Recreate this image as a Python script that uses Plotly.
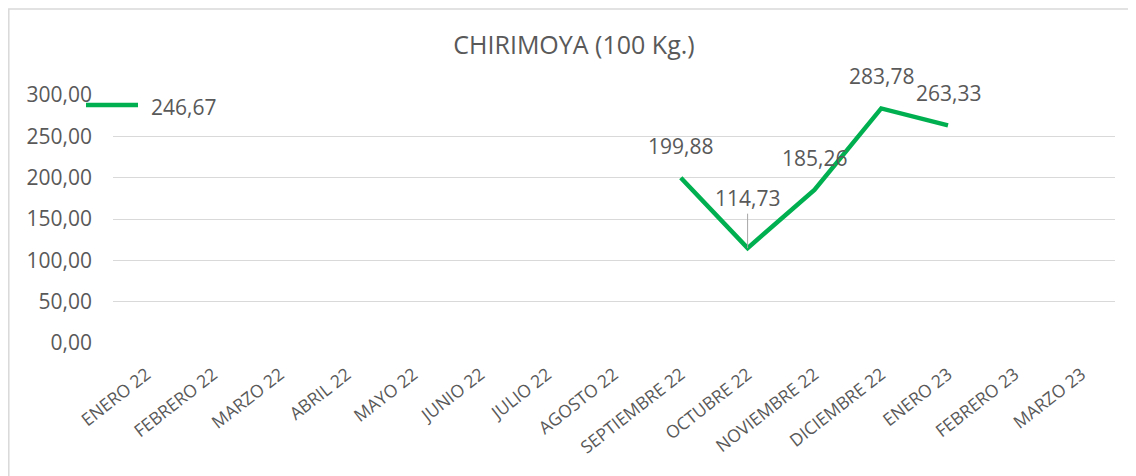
import plotly.graph_objects as go

categories = ["ENERO 22", "FEBRERO 22", "MARZO 22", "ABRIL 22", "MAYO 22", "JUNIO 22",
              "JULIO 22", "AGOSTO 22", "SEPTIEMBRE 22", "OCTUBRE 22", "NOVIEMBRE 22",
              "DICIEMBRE 22", "ENERO 23", "FEBRERO 23", "MARZO 23"]
values = [246.67, None, None, None, None, None, None, None,
          199.88, 114.73, 185.26, 283.78, 263.33, None, None]
y_ticks = [0, 50, 100, 150, 200, 250, 300]
y_tick_labels = ["0,00", "50,00", "100,00", "150,00", "200,00", "250,00", "300,00"]

GREEN = "#00B050"
TXT = "#595959"
FONT = "Open Sans"

OFF = 8  # page body margin
W, H = 1136 - OFF, 476 - OFF
ML, MR, MT, MB = 113 - OFF, 21, 95 - OFF, 133
PW, PH = W - ML - MR, H - MT - MB

def fmt(v):
    return f"{v:.2f}".replace(".", ",")

fig = go.Figure()
fig.add_trace(go.Scatter(
    x=categories, y=values, mode="lines",
    line=dict(color=GREEN, width=4.5),
    connectgaps=False, showlegend=False, hoverinfo="skip",
))

annotations = []
for i, (c, v) in enumerate(zip(categories, values)):
    if v is None:
        continue
    if i == 0:
        annotations.append(dict(x=c, y=v, text=fmt(v), showarrow=False,
                                xshift=37, yshift=32,
                                font=dict(family=FONT, size=21, color=TXT)))
    elif c == "OCTUBRE 22":
        annotations.append(dict(x=c, y=v, text=fmt(v), showarrow=True,
                                arrowhead=0, arrowwidth=1, arrowcolor="#A6A6A6",
                                ax=0, ay=-50, standoff=0,
                                font=dict(family=FONT, size=21, color=TXT)))
    else:
        annotations.append(dict(x=c, y=v, text=fmt(v), showarrow=False,
                                yshift=32,
                                font=dict(family=FONT, size=21, color=TXT)))

# page pixel -> paper coordinate
def px_x(p):
    return (p - OFF - ML) / PW

def px_y(p):
    return (H - MB - (p - OFF)) / PH

shapes = [
    # chart-area border (left and top edges visible)
    dict(type="rect", xref="paper", yref="paper",
         x0=px_x(8.8), x1=px_x(1300), y0=px_y(600), y1=px_y(9),
         line=dict(color="#D9D9D9", width=1.5), layer="below"),
    # legend-like key dash
    dict(type="line", xref="paper", yref="paper",
         x0=px_x(86), x1=px_x(138), y0=px_y(105), y1=px_y(105),
         line=dict(color=GREEN, width=4.5)),
]

fig.update_layout(
    width=W, height=H,
    margin=dict(l=ML, r=MR, t=MT, b=MB, autoexpand=False),
    paper_bgcolor="white", plot_bgcolor="white",
    title=dict(text="CHIRIMOYA (100 Kg.)", x=(574 - OFF) / W, xanchor="center",
               xref="container", y=1 - (45 - OFF) / H, yanchor="middle",
               font=dict(family=FONT, size=25, color=TXT)),
    xaxis=dict(type="category", categoryorder="array", categoryarray=categories,
               tickangle=-38, showgrid=False, showline=False, zeroline=False,
               ticks="", ticklabelstandoff=17, automargin=False,
               tickfont=dict(family=FONT, size=17.5, color=TXT),
               range=[-0.5, len(categories) - 0.5]),
    yaxis=dict(range=[0, 300], tickvals=y_ticks, ticktext=y_tick_labels,
               showgrid=True, gridcolor="#D9D9D9", gridwidth=1,
               zeroline=False, showline=False, ticks="", ticklabelstandoff=20,
               automargin=False,
               tickfont=dict(family=FONT, size=21, color=TXT)),
    annotations=annotations,
    shapes=shapes,
    showlegend=False,
)

fig.write_html("out.html")
